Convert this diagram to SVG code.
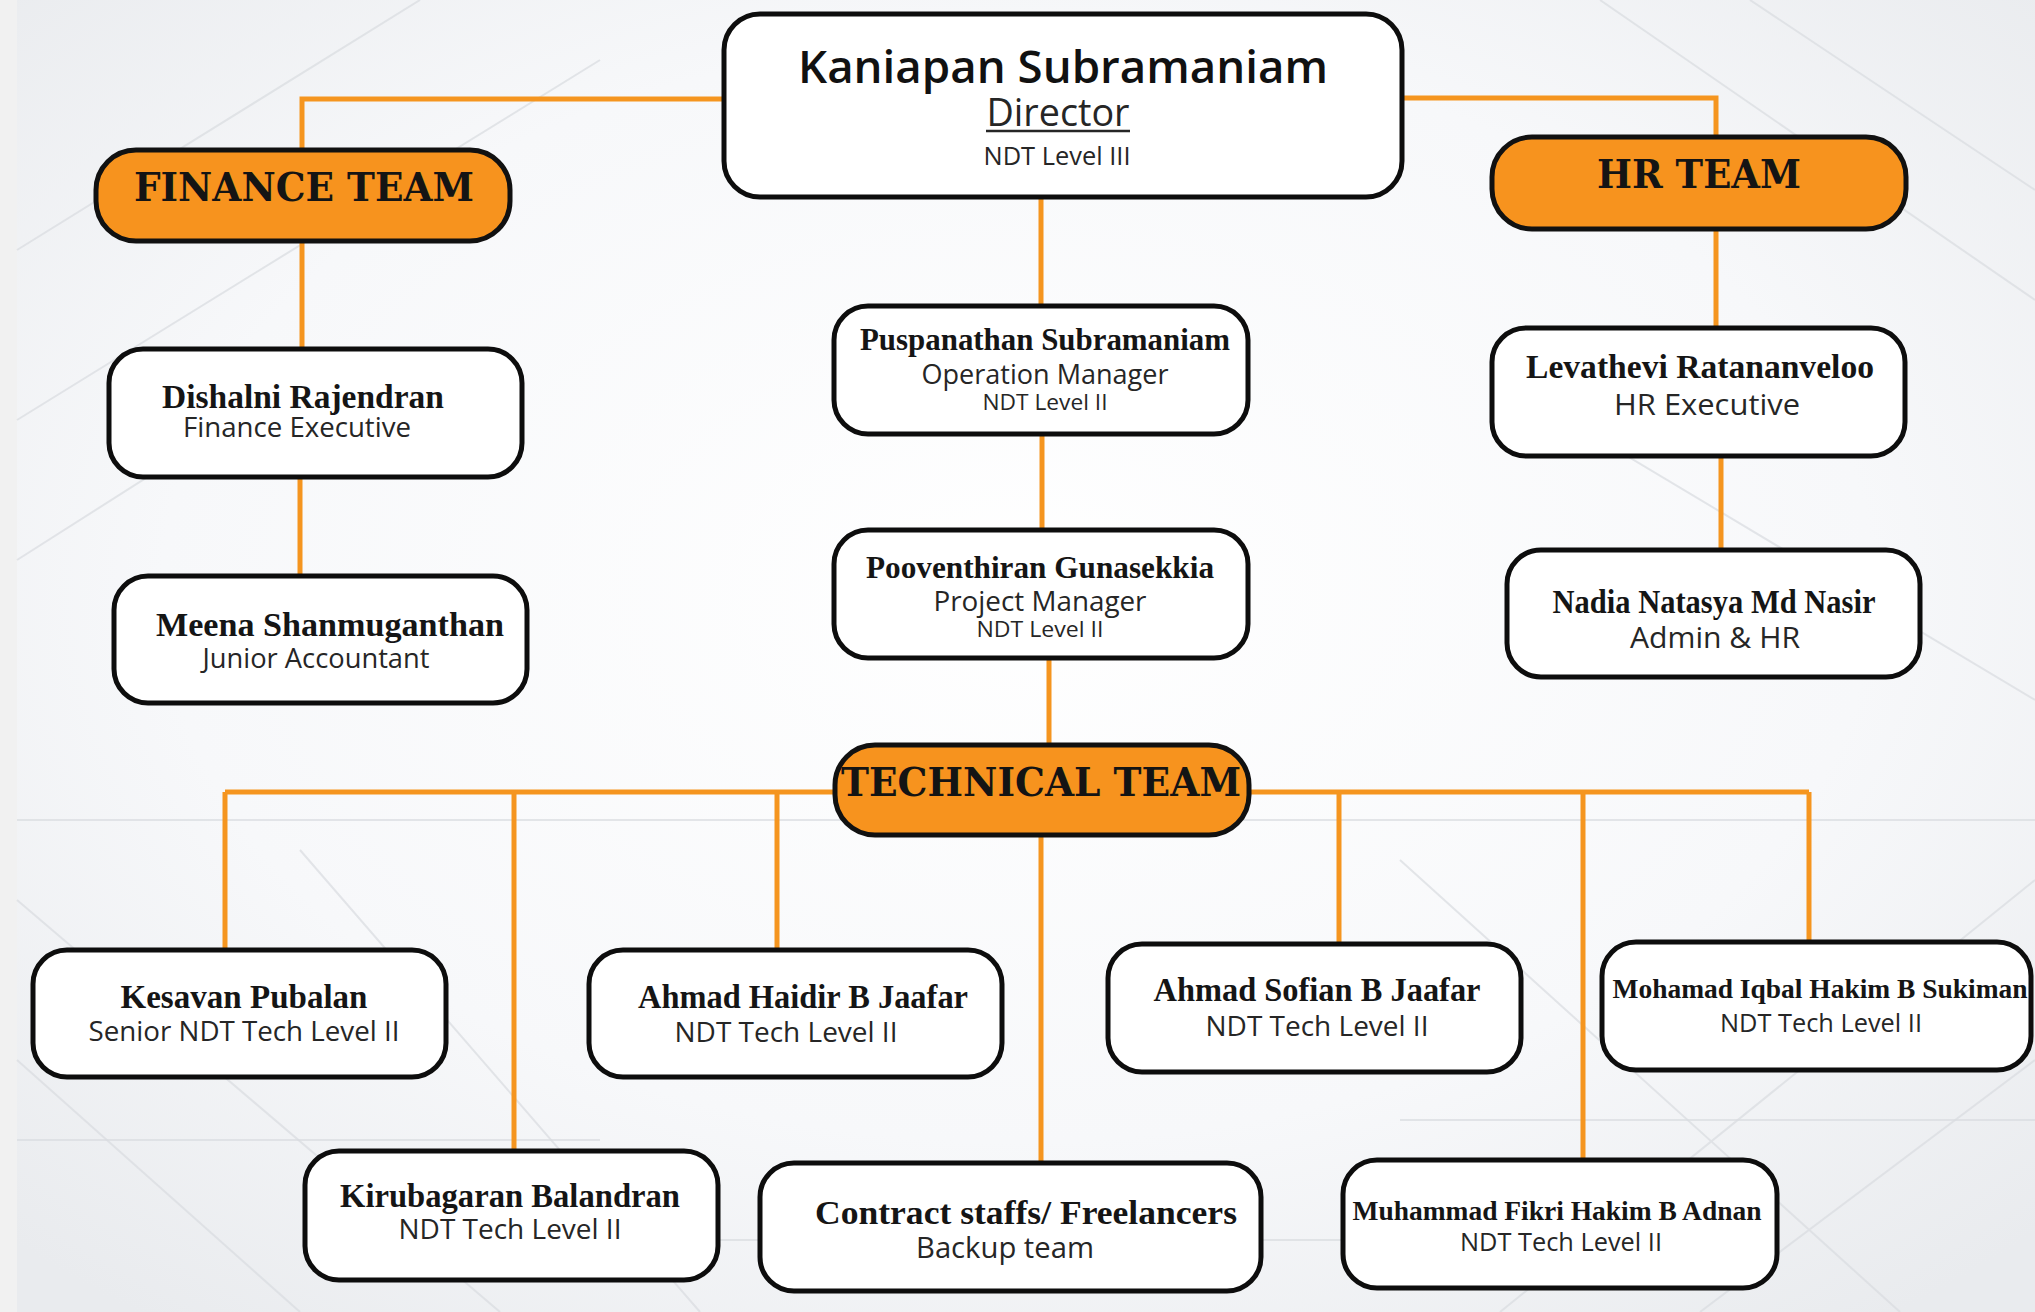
<svg xmlns="http://www.w3.org/2000/svg" width="2035" height="1312" viewBox="0 0 2035 1312">
<defs>
<style>
.box{fill:#ffffff;stroke:#0d0d0d;stroke-width:5}
.team{fill:#f7931e;stroke:#111111;stroke-width:5}
.con{fill:none;stroke:#f5951f;stroke-width:5}
.nm{font-family:"Liberation Serif",serif;font-weight:bold;fill:#151515;text-anchor:middle}
.sub{font-family:"Open Sans","Noto Sans",sans-serif;fill:#262626;text-anchor:middle}
.tt{font-family:"DejaVu Serif",serif;font-weight:bold;fill:#141414;text-anchor:middle;font-size:40px}
.bgl{stroke:#d9dce0;stroke-width:2;fill:none;opacity:0.7}
</style>
<radialGradient id="bg" cx="0.5" cy="0.45" r="0.7">
<stop offset="0" stop-color="#ffffff"/>
<stop offset="0.6" stop-color="#f7f8fa"/>
<stop offset="1" stop-color="#e9ebee"/>
</radialGradient>
</defs>
<rect x="0" y="0" width="2035" height="1312" fill="url(#bg)"/>
<rect x="0" y="0" width="17" height="1312" fill="#f1f1f1"/>
<g id="background">
<path class="bgl" d="M17,250 L420,0 M17,420 L600,60 M17,560 L300,380 M1600,0 L2035,300 M1750,0 L2035,190 M1500,380 L2035,700 M17,900 L500,1312 M17,1060 L300,1312 M1500,1312 L2035,880 M1700,1312 L2035,1060 M300,850 L700,1312 M1400,860 L1900,1312"/>
<path class="bgl" d="M17,820 L2035,820 M17,1140 L600,1140 M1400,1120 L2035,1120 M600,1240 L1400,1240"/>
</g>
<g id="connectors">
<path class="con" d="M725,99 H302 V150"/>
<path class="con" d="M1400,98 H1716 V137"/>
<path class="con" d="M302,240 V349"/>
<path class="con" d="M300,477 V576"/>
<path class="con" d="M1716,229 V328"/>
<path class="con" d="M1721,456 V550"/>
<path class="con" d="M1041,196 V306"/>
<path class="con" d="M1042,434 V530"/>
<path class="con" d="M1049,658 V745"/>
<path class="con" d="M225,792 H1809"/>
<path class="con" d="M225,792 V950"/>
<path class="con" d="M514,792 V1151"/>
<path class="con" d="M777,792 V950"/>
<path class="con" d="M1041,835 V1163"/>
<path class="con" d="M1339,792 V944"/>
<path class="con" d="M1583,792 V1160"/>
<path class="con" d="M1809,792 V942"/>
</g>
<g id="director">
<rect class="box" x="724" y="14" width="678" height="183" rx="36"/>
<text x="1063" y="83" font-family="Open Sans, Noto Sans, sans-serif" font-weight="600" font-size="46" fill="#111" text-anchor="middle" textLength="530" lengthAdjust="spacingAndGlyphs">Kaniapan Subramaniam</text>
<text x="1058" y="126" class="sub" font-size="38" textLength="143" lengthAdjust="spacingAndGlyphs">Director</text>
<line x1="986" y1="131" x2="1130" y2="131" stroke="#262626" stroke-width="2.5"/>
<text x="1057" y="165" class="sub" font-size="25" textLength="147" lengthAdjust="spacingAndGlyphs">NDT Level III</text>
</g>
<g id="finance-team">
<rect class="team" x="96" y="150" width="414" height="91" rx="40"/>
<text x="304" y="201" class="tt" textLength="340" lengthAdjust="spacingAndGlyphs">FINANCE TEAM</text>
</g>
<g id="hr-team">
<rect class="team" x="1492" y="137" width="414" height="92" rx="40"/>
<text x="1699" y="188" class="tt" textLength="204" lengthAdjust="spacingAndGlyphs">HR TEAM</text>
</g>
<g id="technical-team">
<rect class="team" x="835" y="745" width="414" height="90" rx="40"/>
<text x="1041" y="796" class="tt" textLength="400" lengthAdjust="spacingAndGlyphs">TECHNICAL TEAM</text>
</g>
<g id="dishalni">
<rect class="box" x="109" y="349" width="413" height="128" rx="34"/>
<text x="303" y="408" class="nm" font-size="33" textLength="282" lengthAdjust="spacingAndGlyphs">Dishalni Rajendran</text>
<text x="297" y="437" class="sub" font-size="27" textLength="228" lengthAdjust="spacingAndGlyphs">Finance Executive</text>
</g>
<g id="meena">
<rect class="box" x="114" y="576" width="413" height="127" rx="34"/>
<text x="330" y="636" class="nm" font-size="33" textLength="348" lengthAdjust="spacingAndGlyphs">Meena Shanmuganthan</text>
<text x="316" y="668" class="sub" font-size="27" textLength="227" lengthAdjust="spacingAndGlyphs">Junior Accountant</text>
</g>
<g id="levathevi">
<rect class="box" x="1492" y="328" width="413" height="128" rx="34"/>
<text x="1700" y="378" class="nm" font-size="33" textLength="348" lengthAdjust="spacingAndGlyphs">Levathevi Ratananveloo</text>
<text x="1707" y="415" class="sub" font-size="30" textLength="186" lengthAdjust="spacingAndGlyphs">HR Executive</text>
</g>
<g id="nadia">
<rect class="box" x="1507" y="550" width="413" height="127" rx="34"/>
<text x="1714" y="613" class="nm" font-size="33" textLength="323" lengthAdjust="spacingAndGlyphs">Nadia Natasya Md Nasir</text>
<text x="1715" y="648" class="sub" font-size="30" textLength="170" lengthAdjust="spacingAndGlyphs">Admin &amp; HR</text>
</g>
<g id="puspanathan">
<rect class="box" x="834" y="306" width="414" height="128" rx="34"/>
<text x="1045" y="350" class="nm" font-size="31" textLength="370" lengthAdjust="spacingAndGlyphs">Puspanathan Subramaniam</text>
<text x="1045" y="384" class="sub" font-size="27" textLength="247" lengthAdjust="spacingAndGlyphs">Operation Manager</text>
<text x="1045" y="410" class="sub" font-size="22" textLength="125" lengthAdjust="spacingAndGlyphs">NDT Level II</text>
</g>
<g id="pooventhiran">
<rect class="box" x="834" y="530" width="414" height="128" rx="34"/>
<text x="1040" y="578" class="nm" font-size="31" textLength="348" lengthAdjust="spacingAndGlyphs">Pooventhiran Gunasekkia</text>
<text x="1040" y="611" class="sub" font-size="27" textLength="213" lengthAdjust="spacingAndGlyphs">Project Manager</text>
<text x="1040" y="637" class="sub" font-size="22" textLength="127" lengthAdjust="spacingAndGlyphs">NDT Level II</text>
</g>
<g id="kesavan">
<rect class="box" x="33" y="950" width="413" height="127" rx="34"/>
<text x="244" y="1008" class="nm" font-size="33" textLength="247" lengthAdjust="spacingAndGlyphs">Kesavan Pubalan</text>
<text x="244" y="1041" class="sub" font-size="28" textLength="311" lengthAdjust="spacingAndGlyphs">Senior NDT Tech Level II</text>
</g>
<g id="ahmad-haidir">
<rect class="box" x="589" y="950" width="413" height="127" rx="34"/>
<text x="803" y="1008" class="nm" font-size="33" textLength="330" lengthAdjust="spacingAndGlyphs">Ahmad Haidir B Jaafar</text>
<text x="786" y="1042" class="sub" font-size="28" textLength="223" lengthAdjust="spacingAndGlyphs">NDT Tech Level II</text>
</g>
<g id="ahmad-sofian">
<rect class="box" x="1108" y="944" width="413" height="128" rx="34"/>
<text x="1317" y="1001" class="nm" font-size="33" textLength="327" lengthAdjust="spacingAndGlyphs">Ahmad Sofian B Jaafar</text>
<text x="1317" y="1036" class="sub" font-size="28" textLength="223" lengthAdjust="spacingAndGlyphs">NDT Tech Level II</text>
</g>
<g id="mohamad-iqbal">
<rect class="box" x="1602" y="942" width="429" height="128" rx="34"/>
<text x="1820" y="998" class="nm" font-size="28" textLength="415" lengthAdjust="spacingAndGlyphs">Mohamad Iqbal Hakim B Sukiman</text>
<text x="1821" y="1032" class="sub" font-size="26" textLength="202" lengthAdjust="spacingAndGlyphs">NDT Tech Level II</text>
</g>
<g id="kirubagaran">
<rect class="box" x="305" y="1151" width="413" height="129" rx="34"/>
<text x="510" y="1207" class="nm" font-size="33" textLength="340" lengthAdjust="spacingAndGlyphs">Kirubagaran Balandran</text>
<text x="510" y="1239" class="sub" font-size="28" textLength="223" lengthAdjust="spacingAndGlyphs">NDT Tech Level II</text>
</g>
<g id="contract-staffs">
<rect class="box" x="760" y="1163" width="501" height="128" rx="34"/>
<text x="1026" y="1224" class="nm" font-size="33" textLength="422" lengthAdjust="spacingAndGlyphs">Contract staffs/ Freelancers</text>
<text x="1005" y="1258" class="sub" font-size="29" textLength="178" lengthAdjust="spacingAndGlyphs">Backup team</text>
</g>
<g id="muhammad-fikri">
<rect class="box" x="1343" y="1160" width="434" height="128" rx="34"/>
<text x="1557" y="1220" class="nm" font-size="28" textLength="409" lengthAdjust="spacingAndGlyphs">Muhammad Fikri Hakim B Adnan</text>
<text x="1561" y="1251" class="sub" font-size="26" textLength="202" lengthAdjust="spacingAndGlyphs">NDT Tech Level II</text>
</g>
</svg>
